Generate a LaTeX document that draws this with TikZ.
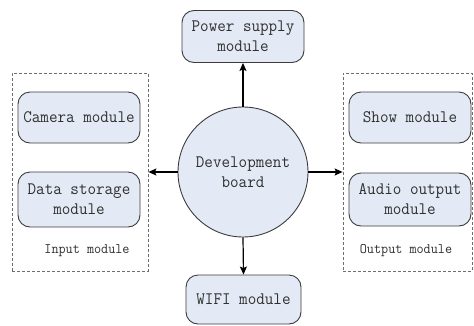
\documentclass[tikz,border=0pt]{standalone}
\usepackage{fontspec}
\setmainfont[FakeStretch=0.95]{Latin Modern Mono}
\usetikzlibrary{arrows.meta}
\definecolor{boxfill}{HTML}{E4EAF5}
\definecolor{boxline}{HTML}{3C3C3C}
\definecolor{txt}{HTML}{303030}
\definecolor{dashline}{HTML}{6E6E6E}
\tikzset{
  module/.style={draw=boxline, line width=0.9pt, fill=boxfill, rounded corners=12pt,
    align=center, text=txt, font=\fontsize{17.5}{20}\selectfont, inner sep=0pt},
  board/.style={draw=boxline, line width=0.9pt, fill=boxfill, circle,
    minimum size=130pt, align=center, text=txt, font=\fontsize{17.5}{20}\selectfont, inner sep=0pt},
  group/.style={draw=dashline, line width=0.8pt, dash pattern=on 3pt off 2pt, inner sep=0pt},
  grouplabel/.style={text=txt, font=\fontsize{14.5}{16}\selectfont, inner sep=0pt},
  link/.style={line width=1.2pt, -{Stealth[length=8pt,width=7pt,inset=1.5pt]}}
}
\begin{document}
\begin{tikzpicture}[x=1pt,y=-1pt]
  \useasboundingbox (0,0) rectangle (474,325);

  % input and output groups
  \node[group, minimum width=136pt, minimum height=198pt] (inbox) at (80,172) {};
  \node[group, minimum width=129pt, minimum height=198pt] (outbox) at (407.5,172) {};
  \node[grouplabel] (inlabel) at (87,251) {Input module};
  \node[grouplabel] (outlabel) at (406,251) {Output module};

  % central board
  \node[board] (dev) at (243,172) {Development\\board};

  % modules
  \node[module, minimum width=122pt, minimum height=52pt] (power) at (243,36.5) {Power supply\\module};
  \node[module, minimum width=122pt, minimum height=51pt] (camera) at (79,117.5) {Camera module};
  \node[module, minimum width=122pt, minimum height=55pt] (storage) at (79,199.5) {Data storage\\module};
  \node[module, minimum width=122pt, minimum height=51pt] (show) at (410,117.5) {Show module};
  \node[module, minimum width=122pt, minimum height=53pt] (audio) at (410,199.5) {Audio output\\module};
  \node[module, minimum width=115pt, minimum height=49pt] (wifi) at (243.5,299.5) {WIFI module};

  % connections from the board
  \draw[link] (dev.north) -- (power.south);
  \draw[link] (dev.south) -- (wifi.north);
  \draw[link] (dev.west) -- (dev.west -| inbox.east);
  \draw[link] (dev.east) -- (dev.east -| outbox.west);
\end{tikzpicture}
\end{document}
